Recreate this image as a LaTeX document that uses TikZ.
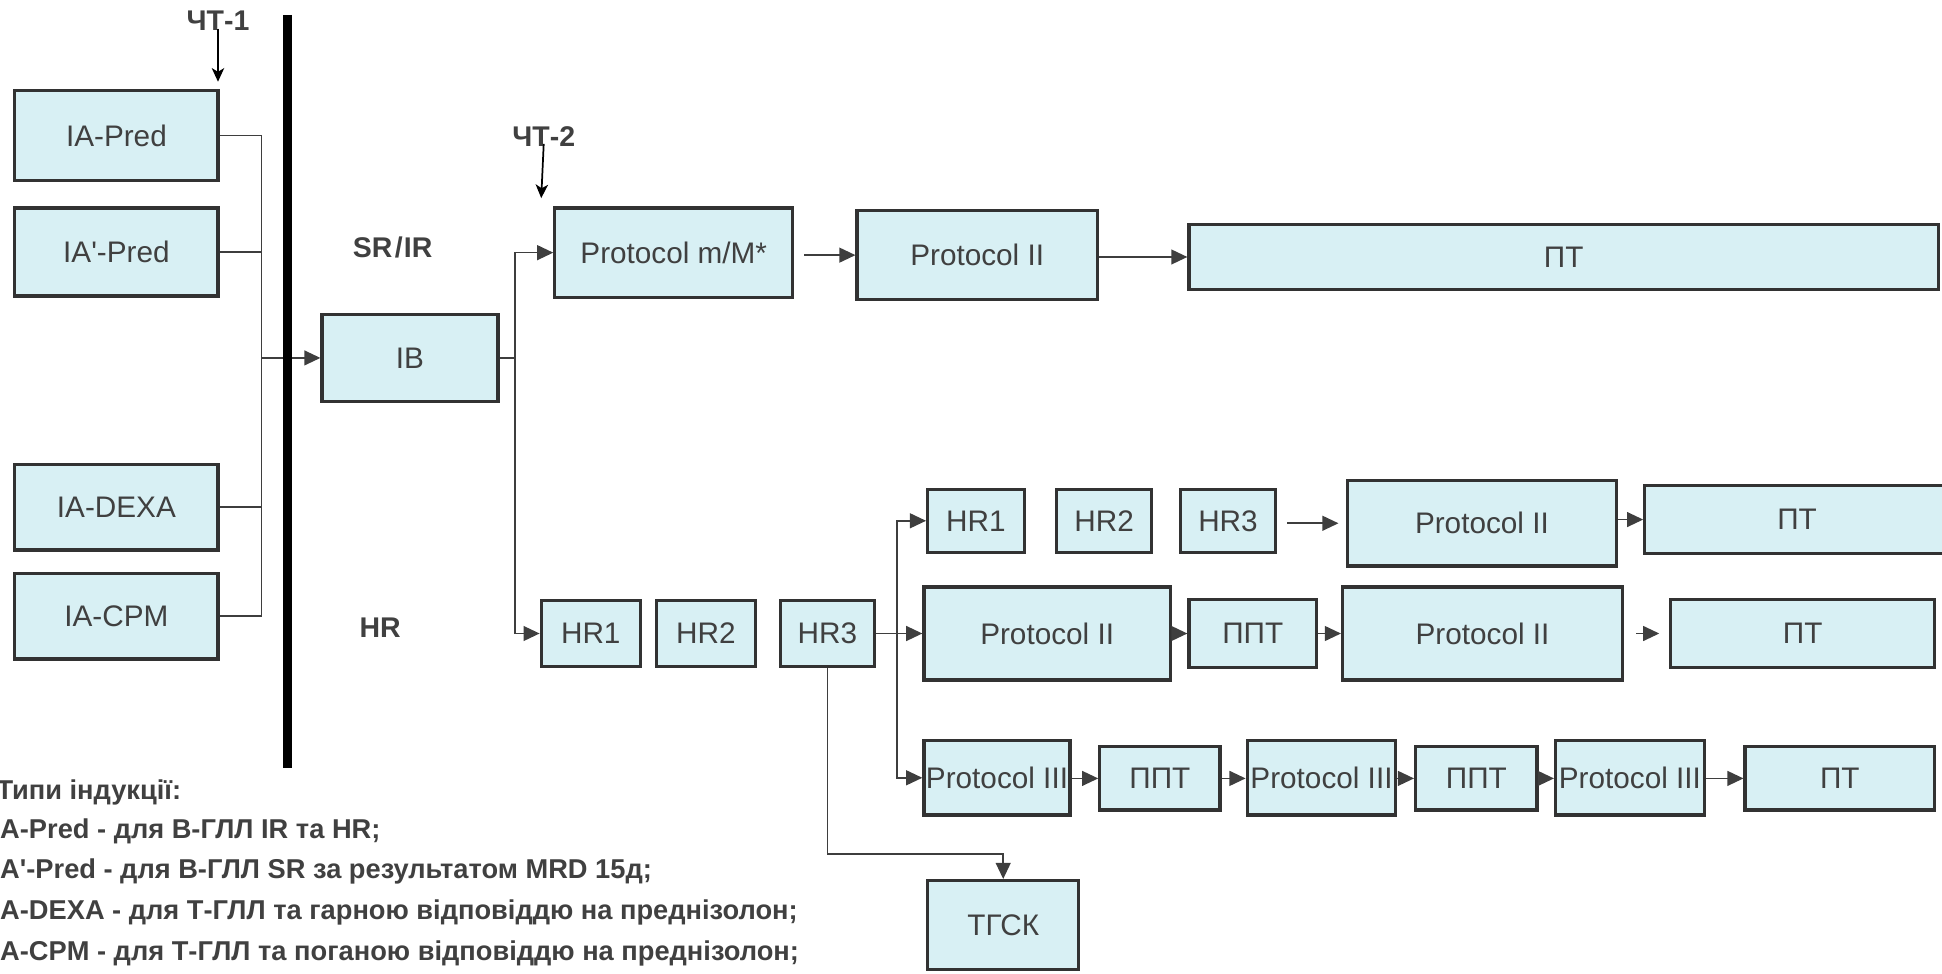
\documentclass[tikz,border=0pt]{standalone}
\usepackage{fontspec}
\setmainfont{Liberation Sans}
\usetikzlibrary{arrows.meta}
\definecolor{boxfill}{RGB}{216,240,244}
\definecolor{boxline}{RGB}{50,50,50}
\definecolor{txt}{RGB}{64,64,64}
\definecolor{wire}{RGB}{62,62,62}
% \blk{name}{x1}{y1}{x2}{y2}{text}: a box given by its corners
\newcommand\blk[6]{\node[bx, minimum width={(#4)-(#2)}, minimum height={(#5)-(#3)}] (#1) at ({((#2)+(#4))/2},{((#3)+(#5))/2}) {#6};}
\begin{document}
\begin{tikzpicture}[x=1pt,y=-1pt,
  bx/.style={draw=boxline, line width=2.6pt, fill=boxfill, inner sep=0pt, text=txt, font=\fontsize{24}{28}\selectfont},
  narrowtext/.style={font=\fontsize{23}{28}\selectfont},
  ln/.style={draw=wire, line width=1.3pt},
  arr/.style={ln, -{Triangle[length=13pt,width=12pt]}},
  mark arrow/.style={draw=black, line width=1.4pt, -{Stealth[length=11pt,width=10pt,inset=3pt]}},
  lbl/.style={font=\fontsize{23}{27}\selectfont\bfseries, text=txt, inner sep=0pt},
  leg/.style={font=\fontsize{22}{25}\selectfont\bfseries, text=txt, inner sep=0pt, anchor=west},
]
\useasboundingbox (0,0) rectangle (1568,786);

% induction blocks
\blk{iapred}{12}{73}{176}{146}{IA-Pred}
\blk{iaprime}{12}{168}{176}{239}{IA\textquotesingle-Pred}
\blk{iadexa}{12}{375}{176}{444}{IA-DEXA}
\blk{iacpm}{12}{463}{176}{532}{IA-CPM}
\blk{ib}{260}{254}{402}{324}{IB}

% SR / IR branch
\blk{pmm}{448}{168}{640}{240}{Protocol m/M*}
\blk{p2top}{692}{170}{886}{242}{Protocol II}
\blk{pttop}{960}{181}{1565}{234}{ПТ}

% HR branch
\blk{hrb1}{437}{485}{517}{538}{HR1}
\blk{hrb2}{530}{485}{610}{538}{HR2}
\blk{hrb3}{630}{485}{706}{538}{HR3}

\blk{hru1}{749}{395}{827}{446}{HR1}
\blk{hru2}{853}{395}{930}{446}{HR2}
\blk{hru3}{953}{395}{1030}{446}{HR3}
\blk{p2u}{1088}{388}{1305}{457}{Protocol II}
\blk{ptu}{1328}{392}{1574}{447}{ПТ}

\blk{p2b}{746}{474}{945}{549}{Protocol II}
\blk{pptb}{960}{484}{1063}{539}{ППТ}
\blk{p2bb}{1084}{474}{1310}{549}{Protocol II}
\blk{ptb}{1349}{484}{1562}{539}{ПТ}

\begin{scope}[every node/.append style={narrowtext}]
\blk{p3a}{746}{598}{864}{658}{Protocol III}
\blk{ppta}{888}{603}{985}{654}{ППТ}
\blk{p3b}{1007}{598}{1127}{658}{Protocol III}
\blk{pptc}{1143}{603}{1241}{654}{ППТ}
\blk{p3c}{1256}{598}{1376}{658}{Protocol III}
\blk{ptc}{1409}{603}{1562}{654}{ПТ}
\end{scope}

\blk{tgsk}{749}{711}{871}{783}{ТГСК}

% side labels
\node[lbl] (ct1) at (176,17) {ЧТ-1};
\node[lbl] (ct2) at (439,110) {ЧТ-2};
\node[lbl] (srir) at (317,200) {SR\kern2pt/\kern1pt IR};
\node[lbl] (hrl) at (307,507) {HR};
\coordinate (ct1end) at (176,66);
\coordinate (ct2end) at (437,160);
\draw[mark arrow] (ct1.south) ++(0,-2) -- (ct1end);
\draw[mark arrow] (ct2.south) ++(0,-2) -- (ct2end);

% collecting bus of the induction blocks
\coordinate (busl) at (211,289);
\draw[ln] (iapred.east) -| (busl |- iacpm.east) -- (iacpm.east);
\draw[ln] (iaprime.east) -- (busl |- iaprime.east);
\draw[ln] (iadexa.east) -- (busl |- iadexa.east);
\draw[arr] (busl |- ib.west) -- (ib.west);

% dividing bar
\draw[line width=7pt, black] (232,12) -- (232,620);

% split after IB
\coordinate (busr) at (416,289);
\draw[ln] (ib.east) -- (busr |- ib.east);
\draw[arr] (busr |- ib.east) |- (pmm.west);
\draw[arr] (busr |- ib.east) |- (hrb1.west);

% SR / IR chain
\draw[arr, shorten <=8pt] (pmm.east |- p2top.west) -- (p2top.west);
\draw[arr] (p2top.east |- pttop.west) -- (pttop.west);

% split after HR3
\coordinate (bush) at (724,511.5);
\draw[arr] (hrb3.east) -- (p2b.west);
\draw[arr] (bush) |- (hru1.west);
\draw[arr] (bush) |- (p3a.west);

% upper HR chain
\draw[arr, shorten <=8pt, shorten >=6pt] (hru3.east |- p2u.west) -- (p2u.west);
\draw[arr] (p2u.east |- ptu.west) -- (ptu.west);

% middle chain
\draw[arr] (p2b.east |- pptb.west) -- (pptb.west);
\draw[arr] (pptb.east) -- (pptb.east -| p2bb.west);
\draw[arr, shorten <=10pt, shorten >=8pt] (p2bb.east |- ptb.west) -- (ptb.west);

% lower chain
\draw[arr] (p3a.east |- ppta.west) -- (ppta.west);
\draw[arr] (ppta.east) -- (ppta.east -| p3b.west);
\draw[arr] (p3b.east |- pptc.west) -- (pptc.west);
\draw[arr] (pptc.east) -- (pptc.east -| p3c.west);
\draw[arr] (p3c.east |- ptc.west) -- (ptc.west);

% to transplantation
\draw[arr] (hrb3.south) -- ++(0,150) -| (tgsk.north);

% legend
\node[leg] (legh) at (-3,640) {Типи індукції:};
\node[leg] (leg1) at (0,671) {A-Pred - для B-ГЛЛ IR та HR;};
\node[leg] (leg2) at (0,704) {A\textquotesingle-Pred - для B-ГЛЛ SR за результатом MRD 15д;};
\node[leg] (leg3) at (0,737) {A-DEXA - для Т-ГЛЛ та гарною відповіддю на преднізолон;};
\node[leg] (leg4) at (0,770) {A-CPM - для Т-ГЛЛ та поганою відповіддю на преднізолон;};
\end{tikzpicture}
\end{document}
